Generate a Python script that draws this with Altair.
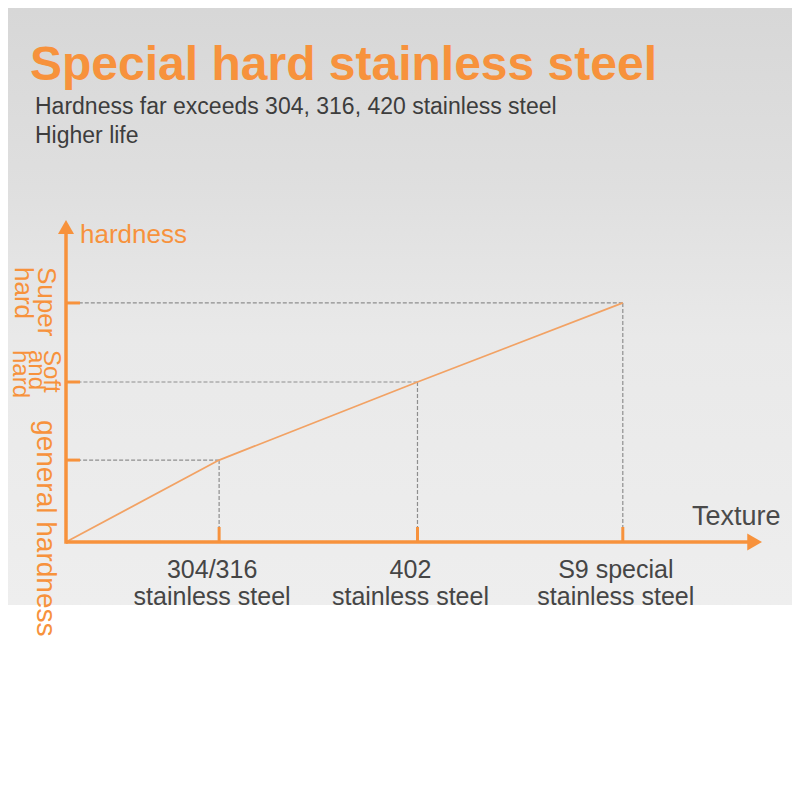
import altair as alt
import pandas as pd

# ---------------- data ----------------
title_text = "Special hard stainless steel"
subtitle_lines = ["Hardness far exceeds 304, 316, 420 stainless steel", "Higher life"]
grades = ["304/316\nstainless steel", "402\nstainless steel", "S9 special\nstainless steel"]
texture_pos = [22.0, 50.5, 80.0]          # position of each grade along the Texture axis
hardness_level = [25.6, 50.0, 74.7]       # hardness level of each grade
level_labels = ["general  hardness", "Soft\nand\nhard", "Super\nhard"]
x_axis_title = "Texture"
y_axis_title = "hardness"

ORANGE = "#f7923c"
LINE_ORANGE = "#f2a264"
DARK = "#3d3d3d"
FONT = "Liberation Sans"

W, H = 696, 320

grades_df = pd.DataFrame({"grade": grades, "x": texture_pos, "y": hardness_level})
levels_df = pd.DataFrame({"label": level_labels, "y": hardness_level})
line_df = pd.DataFrame({"x": [0.0] + texture_pos, "y": [0.0] + hardness_level})
one = pd.DataFrame({"k": [0]})
# axis extents (scale domain is 0..100 on both axes)
xaxis_df = pd.DataFrame({"x": [0.0], "x2": [98.2], "y": [0.0]})
yaxis_df = pd.DataFrame({"x": [0.0], "y": [0.0], "y2": [96.5]})
xarrow_df = pd.DataFrame({"x": [98.94], "y": [0.0]})
yarrow_df = pd.DataFrame({"x": [0.0], "y": [98.45]})

xs = alt.Scale(domain=[0, 100], nice=False, zero=False)
ys = alt.Scale(domain=[0, 100], nice=False, zero=False)
X = lambda f="x:Q": alt.X(f, scale=xs, axis=None)
Y = lambda f="y:Q": alt.Y(f, scale=ys, axis=None)

# background brushed-metal panel
bg = alt.Chart(one).mark_rect(
    color=alt.Gradient(
        gradient="linear", x1=0, x2=0, y1=0, y2=1,
        stops=[
            alt.GradientStop(offset=0, color="#d7d7d7"),
            alt.GradientStop(offset=0.3, color="#dfdfdf"),
            alt.GradientStop(offset=0.55, color="#e9e9e9"),
            alt.GradientStop(offset=1, color="#eeeeee"),
        ],
    ),
    clip=False,
).encode(x=alt.value(-58), x2=alt.value(726), y=alt.value(-214), y2=alt.value(383))

title = alt.Chart(pd.DataFrame({"t": [title_text]})).mark_text(
    align="left", baseline="alphabetic", font=FONT, fontSize=48, fontWeight="bold", color=ORANGE
).encode(x=alt.value(-36), y=alt.value(-142), text="t:N")

subtitle = alt.Chart(pd.DataFrame({"t": ["\n".join(subtitle_lines)]})).mark_text(
    align="left", baseline="alphabetic", font=FONT, fontSize=23, color=DARK,
    lineBreak="\n", lineHeight=29,
).encode(x=alt.value(-31), y=alt.value(-108), text="t:N")

# axes lines
x_axis_line = alt.Chart(xaxis_df).mark_rule(color=ORANGE, strokeWidth=3.5).encode(
    x=X(), x2="x2:Q", y=Y()
)
y_axis_line = alt.Chart(yaxis_df).mark_rule(color=ORANGE, strokeWidth=3.5, strokeCap="square").encode(
    x=X(), y=Y(), y2="y2:Q"
)
x_arrow = alt.Chart(xarrow_df).mark_point(
    shape="triangle-right", filled=True, size=289, color=ORANGE, opacity=1
).encode(x=X(), y=Y())
y_arrow = alt.Chart(yarrow_df).mark_point(
    shape="triangle-up", filled=True, size=256, color=ORANGE, opacity=1
).encode(x=X(), y=Y())

# ticks
x_ticks = alt.Chart(grades_df).mark_rule(color=ORANGE, strokeWidth=3).encode(
    x=X(), y=alt.value(H), y2=alt.value(H - 15)
)
y_ticks = alt.Chart(grades_df).mark_rule(color=ORANGE, strokeWidth=3).encode(
    y=Y(), x=alt.value(0), x2=alt.value(14)
)

# dashed guides
h_dash = alt.Chart(grades_df).mark_rule(color="#8e8e8e", strokeWidth=1.2, strokeDash=[4, 2]).encode(
    x=X(), x2=alt.value(14), y=Y()
)
v_dash = alt.Chart(grades_df).mark_rule(color="#8e8e8e", strokeWidth=1.2, strokeDash=[4, 2]).encode(
    x=X(), y=Y(), y2=alt.value(H - 15)
)

# hardness line
line = alt.Chart(line_df).mark_line(color=LINE_ORANGE, strokeWidth=1.8).encode(x=X(), y=Y())

# grade labels under x axis
x_labels = alt.Chart(grades_df).mark_text(
    align="center", baseline="alphabetic", font=FONT, fontSize=25, color="#454545",
    lineBreak="\n", lineHeight=27, dy=36, dx=-7,
).encode(x=X(), y=alt.value(H), text="grade:N")

# rotated level labels
lvl_super = alt.Chart(levels_df).transform_filter("datum.y > 60").mark_text(
    align="left", baseline="alphabetic", font=FONT, fontSize=26, color=ORANGE,
    angle=90, lineBreak="\n", lineHeight=23, dx=-36,
).encode(x=alt.value(-28), y=Y(), text="label:N")
lvl_soft = alt.Chart(levels_df).transform_filter("datum.y > 40 && datum.y < 60").mark_text(
    align="left", baseline="alphabetic", font=FONT, fontSize=24, color=ORANGE,
    angle=90, lineBreak="\n", lineHeight=15.5, dx=-32,
).encode(x=alt.value(-22), y=Y(), text="label:N")
lvl_gen = alt.Chart(levels_df).transform_filter("datum.y < 40").mark_text(
    align="left", baseline="alphabetic", font=FONT, fontSize=28, color=ORANGE,
    angle=90, dx=-40,
).encode(x=alt.value(-29), y=Y(), text="label:N")

# axis titles
y_title = alt.Chart(pd.DataFrame({"t": [y_axis_title]})).mark_text(
    align="left", baseline="alphabetic", font=FONT, fontSize=26, color=ORANGE
).encode(x=alt.value(14), y=alt.value(21), text="t:N")
x_title = alt.Chart(pd.DataFrame({"t": [x_axis_title]})).mark_text(
    align="left", baseline="alphabetic", font=FONT, fontSize=27, color="#4a4a4a"
).encode(x=alt.value(626), y=alt.value(303), text="t:N")

chart = alt.layer(
    bg, title, subtitle, h_dash, v_dash, line, x_ticks, y_ticks,
    x_axis_line, y_axis_line, x_arrow, y_arrow, x_labels,
    lvl_super, lvl_soft, lvl_gen, y_title, x_title,
).properties(
    width=W, height=H,
    padding={"left": 58, "top": 214, "right": 30, "bottom": 236},
    autosize=alt.AutoSizeParams(type="none"),
    background="white",
).configure_view(stroke=None)

chart.save("out.html", embed_options={"renderer": "svg", "actions": False})
